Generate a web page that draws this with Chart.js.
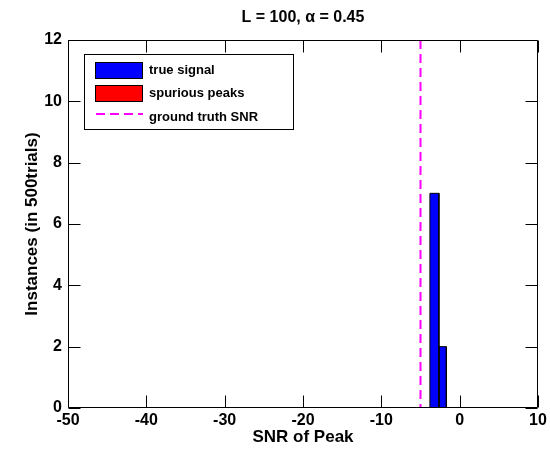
<!DOCTYPE html>
<html>
<head>
<meta charset="utf-8">
<script src="https://cdn.jsdelivr.net/npm/chart.js@4.4.1/dist/chart.umd.min.js"></script>
<style>
  html, body { margin: 0; padding: 0; background: #ffffff; }
  #wrap { width: 550px; height: 456px; }
</style>
</head>
<body>
<div id="wrap"><canvas id="c" width="550" height="456"></canvas></div>
<script>
// Histogram of detected peak SNRs
const binEdges = [-3.8, -2.65, -1.7];
const trueSignalCounts = [7, 2];
const spuriousCounts = [0, 0];
const groundTruthSNR = -5;
const xTicks = [-50, -40, -30, -20, -10, 0, 10];
const yTicks = [0, 2, 4, 6, 8, 10, 12];
const titleText = 'L = 100, \u03b1 = 0.45';

const FONT = "'Liberation Sans', Arial, Helvetica, sans-serif";
Chart.defaults.font.family = FONT;
Chart.defaults.color = '#000000';

// one filled rectangle per non-empty bin
function binRects(counts, label, fillColor) {
  const sets = [];
  counts.forEach((c, i) => {
    if (c <= 0) return;
    const x0 = binEdges[i], x1 = binEdges[i + 1];
    sets.push({
      label: label,
      data: [{x: x0, y: 0}, {x: x0, y: c}, {x: x1, y: c}, {x: x1, y: 0}],
      showLine: true,
      fill: 'origin',
      backgroundColor: fillColor,
      borderColor: '#000000',
      borderWidth: 1,
      pointRadius: 0,
      tension: 0
    });
  });
  return sets;
}

const datasets = [
  ...binRects(trueSignalCounts, 'true signal', '#0000ff'),
  ...binRects(spuriousCounts, 'spurious peaks', '#ff0000'),
  {
    label: 'ground truth SNR',
    data: [{x: groundTruthSNR, y: yTicks[yTicks.length - 1]}, {x: groundTruthSNR, y: 0}],
    showLine: true,
    fill: false,
    borderColor: '#ff00ff',
    borderWidth: 2,
    borderDash: [9, 5],
    pointRadius: 0
  }
];

const legendItems = [
  {text: 'true signal', kind: 'patch', color: '#0000ff'},
  {text: 'spurious peaks', kind: 'patch', color: '#ff0000'},
  {text: 'ground truth SNR', kind: 'dash', color: '#ff00ff'}
];

// box around the axes with inward ticks on all four sides, the title and the legend
const axesBox = {
  id: 'axesBox',
  afterDatasetsDraw(chart) {
    const ctx = chart.ctx;
    const a = chart.chartArea;
    const xs = chart.scales.x, ys = chart.scales.y;
    const L = Math.round(a.left) + 0.5, R = Math.round(a.right) - 0.5;
    const T = Math.round(a.top) + 0.5, B = Math.round(a.bottom) - 0.5;
    const tl = 12;
    ctx.save();
    ctx.strokeStyle = '#000000';
    ctx.lineWidth = 1;
    ctx.beginPath();
    ctx.rect(L, T, R - L, B - T);
    xTicks.forEach(v => {
      const px = Math.round(xs.getPixelForValue(v)) + 0.5;
      ctx.moveTo(px, B); ctx.lineTo(px, B - tl);
      ctx.moveTo(px, T); ctx.lineTo(px, T + tl);
    });
    yTicks.forEach(v => {
      const py = Math.round(ys.getPixelForValue(v)) + 0.5;
      ctx.moveTo(L, py); ctx.lineTo(L + tl, py);
      ctx.moveTo(R, py); ctx.lineTo(R - tl, py);
    });
    ctx.stroke();

    // title, centred over the axes
    ctx.fillStyle = '#000000';
    ctx.font = "bold 16px " + FONT;
    ctx.textAlign = 'center';
    ctx.textBaseline = 'middle';
    ctx.fillText(titleText, (a.left + a.right) / 2, 18);

    // legend
    const lx = 84.5, ly = 54.5, lw = 209, lh = 75;
    ctx.fillStyle = '#ffffff';
    ctx.fillRect(lx, ly, lw, lh);
    ctx.strokeRect(lx, ly, lw, lh);
    ctx.font = "bold 13px " + FONT;
    ctx.textBaseline = 'middle';
    ctx.textAlign = 'left';
    const rows = [70, 93, 117];
    legendItems.forEach((it, i) => {
      const cy = rows[i];
      if (it.kind === 'patch') {
        ctx.fillStyle = it.color;
        ctx.fillRect(95, cy - 8, 48, 16);
        ctx.strokeStyle = '#000000';
        ctx.lineWidth = 1;
        ctx.strokeRect(95.5, cy - 7.5, 47, 16);
      } else {
        ctx.strokeStyle = it.color;
        ctx.lineWidth = 2;
        ctx.setLineDash([9, 5]);
        ctx.beginPath();
        ctx.moveTo(96, cy - 3);
        ctx.lineTo(143, cy - 3);
        ctx.stroke();
        ctx.setLineDash([]);
      }
      ctx.fillStyle = '#000000';
      ctx.fillText(it.text, 149, cy);
    });
    ctx.restore();
  }
};

new Chart(document.getElementById('c'), {
  type: 'scatter',
  data: {datasets},
  options: {
    responsive: false,
    animation: false,
    devicePixelRatio: 1,
    layout: {padding: {left: 0, right: 12, top: 40, bottom: 0}},
    plugins: {
      legend: {display: false},
      tooltip: {enabled: false},
      title: {display: false}
    },
    scales: {
      x: {
        type: 'linear',
        min: xTicks[0],
        max: xTicks[xTicks.length - 1],
        afterBuildTicks: s => { s.ticks = xTicks.map(v => ({value: v})); },
        afterFit: s => { s.height = 48; },
        grid: {display: false, drawTicks: false},
        border: {display: false},
        ticks: {color: '#000000', font: {size: 16, weight: 'bold'}, padding: 3, maxRotation: 0, autoSkip: false},
        title: {
          display: true,
          text: 'SNR of Peak',
          color: '#000000',
          font: {size: 17, weight: 'bold'},
          padding: {top: 0, bottom: 8}
        }
      },
      y: {
        type: 'linear',
        min: yTicks[0],
        max: yTicks[yTicks.length - 1],
        afterBuildTicks: s => { s.ticks = yTicks.map(v => ({value: v})); },
        afterFit: s => { s.width = 68; },
        grid: {display: false, drawTicks: false},
        border: {display: false},
        ticks: {color: '#000000', font: {size: 16, weight: 'bold'}, padding: 6, autoSkip: false},
        title: {
          display: true,
          text: 'Instances (in 500trials)',
          color: '#000000',
          font: {size: 17, weight: 'bold'},
          padding: {top: 22, bottom: 0}
        }
      }
    }
  },
  plugins: [axesBox]
});
</script>
</body>
</html>
